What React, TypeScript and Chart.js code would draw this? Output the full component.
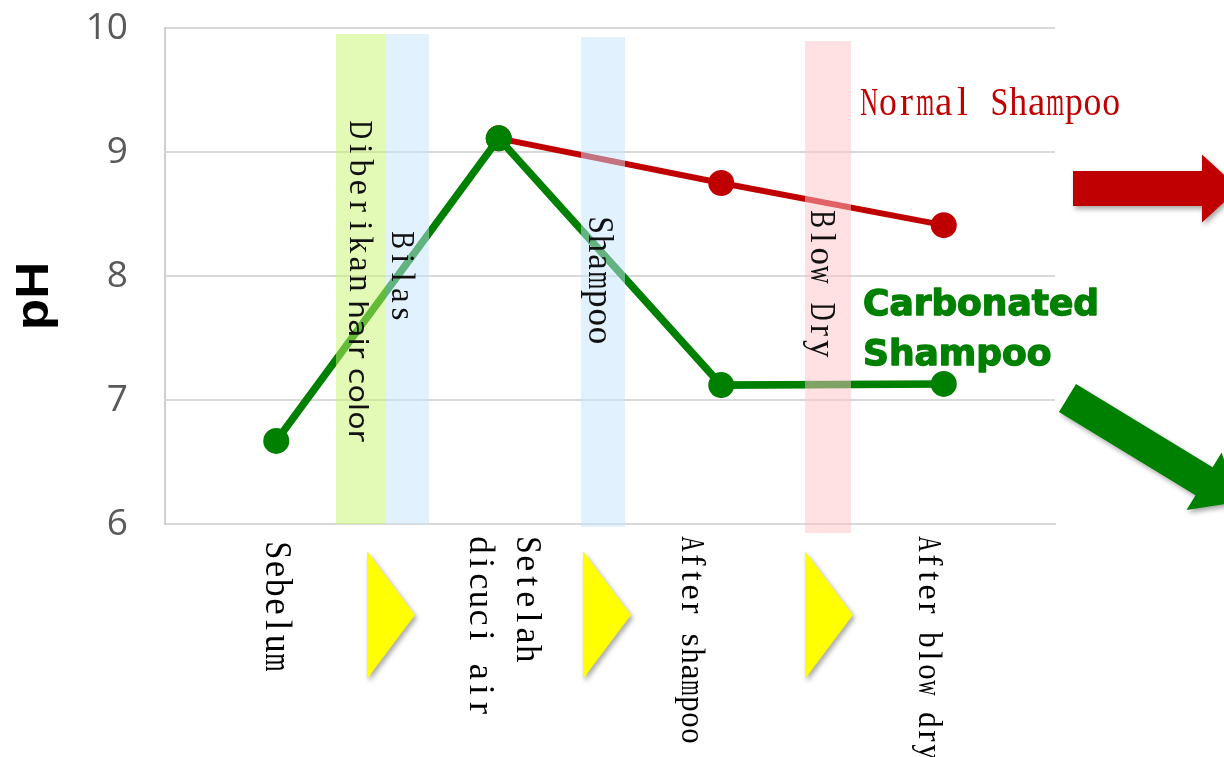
import React, { useEffect, useRef } from 'react';
import { Chart, registerables } from 'chart.js';

Chart.register(...registerables);

// ---- data ----
const categories = ['Sebelum', 'Setelah\ndicuci air', 'After shampoo', 'After blow dry'];
const carbonatedPH = [6.67, 9.11, 7.12, 7.13];
const normalPH: (number | null)[] = [null, 9.11, 8.75, 8.41];
const yTicks = [6, 7, 8, 9, 10];
const seriesNames = ['Carbonated Shampoo', 'Normal Shampoo'];
const stepLabels = ['Diberikan', 'hair color', 'Bilas', 'Shampoo', 'Blow Dry'];
const yTitle = 'pH';

// ---- layout / style (not data) ----
const W = 1224;
const H = 757;
const MONO = "'Liberation Serif', 'DejaVu Serif', serif";

const bands = [
  { from: 0.2685, to: 0.4933, top: 9.952, bottom: 6.0, color: 'rgba(200,245,110,0.5)' },
  { from: 0.4933, to: 0.6865, top: 9.952, bottom: 6.0, color: 'rgba(195,230,253,0.5)' },
  { from: 1.3697, to: 1.5674, top: 9.927, bottom: 5.976, color: 'rgba(195,230,253,0.5)' },
  { from: 2.3764, to: 2.5831, top: 9.895, bottom: 5.927, color: 'rgba(255,195,200,0.5)' },
];

const triangles = [0.408, 1.379, 2.376];

const xLabelLayout = [
  { dx: [-10], startY: 541, cell: 18.7, size: 37 },
  { dx: [18, -29], startY: 536, cell: 18.1, size: 36 },
  { dx: [-39], startY: 536, cell: 16, size: 34 },
  { dx: [-25], startY: 536, cell: 16, size: 34 },
];

function drawMono(ctx: CanvasRenderingContext2D, text: string, cell: number, size: number) {
  ctx.font = `${size}px ${MONO}`;
  ctx.textAlign = 'center';
  ctx.textBaseline = 'alphabetic';
  for (let i = 0; i < text.length; i++) {
    const ch = text[i];
    if (ch === ' ') continue;
    const w = ctx.measureText(ch).width;
    const s = Math.min(1, (cell * 0.96) / w);
    ctx.save();
    ctx.translate(i * cell + cell / 2, 0);
    ctx.scale(s, 1);
    ctx.fillText(ch, 0, 0);
    ctx.restore();
  }
}

function drawVerticalMono(
  ctx: CanvasRenderingContext2D,
  text: string,
  baselineX: number,
  startY: number,
  cell: number,
  size: number,
  color: string
) {
  ctx.save();
  ctx.fillStyle = color;
  ctx.translate(baselineX, startY);
  ctx.rotate(Math.PI / 2);
  drawMono(ctx, text, cell, size);
  ctx.restore();
}

function drawArrow(
  ctx: CanvasRenderingContext2D,
  x0: number,
  y0: number,
  angle: number,
  len: number,
  shaftHalf: number,
  headHalf: number,
  headLen: number,
  color: string
) {
  ctx.save();
  ctx.translate(x0, y0);
  ctx.rotate(angle);
  ctx.shadowColor = 'rgba(0,0,0,0.35)';
  ctx.shadowBlur = 5;
  ctx.shadowOffsetX = 2;
  ctx.shadowOffsetY = 3;
  ctx.fillStyle = color;
  ctx.beginPath();
  ctx.moveTo(0, -shaftHalf);
  ctx.lineTo(len - headLen, -shaftHalf);
  ctx.lineTo(len - headLen, -headHalf);
  ctx.lineTo(len, 0);
  ctx.lineTo(len - headLen, headHalf);
  ctx.lineTo(len - headLen, shaftHalf);
  ctx.lineTo(0, shaftHalf);
  ctx.closePath();
  ctx.fill();
  ctx.restore();
}

const overlayPlugin = {
  id: 'overlay',
  afterDatasetsDraw(chart: any) {
    const ctx: CanvasRenderingContext2D = chart.ctx;
    const x = chart.scales.x;
    const y = chart.scales.y;

    // translucent step bands (on top of the lines)
    ctx.save();
    for (const b of bands) {
      const x1 = Math.round(x.getPixelForValue(b.from));
      const x2 = Math.round(x.getPixelForValue(b.to));
      const y1 = Math.round(y.getPixelForValue(b.top));
      const y2 = Math.round(y.getPixelForValue(b.bottom));
      ctx.fillStyle = b.color;
      ctx.fillRect(x1, y1, x2 - x1, y2 - y1);
    }
    ctx.restore();

    // band texts
    const txt = '#111111';
    const b0 = Math.round(x.getPixelForValue(bands[0].from));
    const b1 = Math.round(x.getPixelForValue(bands[1].from));
    const b2 = Math.round(x.getPixelForValue(bands[2].from));
    const b3 = Math.round(x.getPixelForValue(bands[3].from));
    drawVerticalMono(ctx, stepLabels[0], b0 + 14, 120, 19.2, 34, txt);
    // "hair color" in sans
    ctx.save();
    ctx.fillStyle = txt;
    ctx.translate(b0 + 13, 300);
    ctx.rotate(Math.PI / 2);
    ctx.font = "27px 'DejaVu Sans', sans-serif";
    ctx.textAlign = 'left';
    ctx.textBaseline = 'alphabetic';
    const hw = ctx.measureText(stepLabels[1]).width;
    ctx.scale(142 / hw, 1);
    ctx.fillText(stepLabels[1], 0, 0);
    ctx.restore();
    drawVerticalMono(ctx, stepLabels[2], b1 + 6, 231, 18.4, 33, txt);
    drawVerticalMono(ctx, stepLabels[3], b2 + 8, 216, 18.4, 35, txt);
    drawVerticalMono(ctx, stepLabels[4], b3 + 6, 210, 18.5, 35, txt);

    // x category labels (rotated, reading downward)
    categories.forEach((cat, i) => {
      const cx = x.getPixelForValue(i);
      const lines = cat.split('\n');
      const lay = xLabelLayout[i];
      lines.forEach((ln, k) => {
        drawVerticalMono(ctx, ln, cx + lay.dx[k], lay.startY, lay.cell, lay.size, '#000000');
      });
    });

    // yellow step triangles
    ctx.save();
    ctx.shadowColor = 'rgba(0,0,0,0.35)';
    ctx.shadowBlur = 5;
    ctx.shadowOffsetX = 2;
    ctx.shadowOffsetY = 3;
    ctx.fillStyle = '#ffff00';
    for (const t of triangles) {
      const lx = Math.round(x.getPixelForValue(t));
      ctx.beginPath();
      ctx.moveTo(lx, 551);
      ctx.lineTo(lx + 48, 615);
      ctx.lineTo(lx, 679);
      ctx.closePath();
      ctx.fill();
    }
    ctx.restore();

    // series annotations
    ctx.save();
    ctx.fillStyle = '#c00000';
    ctx.translate(860, 115);
    drawMono(ctx, seriesNames[1], 18.6, 39);
    ctx.restore();

    ctx.save();
    ctx.fillStyle = '#008000';
    ctx.strokeStyle = '#008000';
    ctx.lineWidth = 1.4;
    ctx.lineJoin = 'round';
    ctx.font = "bold 36px 'DejaVu Sans', sans-serif";
    ctx.textAlign = 'left';
    ctx.textBaseline = 'alphabetic';
    const words = seriesNames[0].split(' ');
    const w1 = ctx.measureText(words[0]).width;
    const sc = 236 / w1;
    ctx.translate(863, 315);
    ctx.scale(sc, 1);
    ctx.fillText(words[0], 0, 0);
    ctx.strokeText(words[0], 0, 0);
    ctx.fillText(words[1], 0, 50);
    ctx.strokeText(words[1], 0, 50);
    ctx.restore();

    // big arrows
    drawArrow(ctx, 1073, 188.5, 0, 166, 17.5, 34, 37, '#c00000');
    drawArrow(ctx, 1067.5, 398, Math.atan2(83, 136), 200, 16.4, 33.7, 40, '#008000');

    // y axis title
    ctx.save();
    ctx.fillStyle = '#000000';
    ctx.translate(48, 296);
    ctx.rotate(-Math.PI / 2);
    ctx.font = "bold 46px 'Liberation Sans', Arial, sans-serif";
    ctx.textAlign = 'center';
    ctx.textBaseline = 'alphabetic';
    const tw = ctx.measureText(yTitle).width;
    ctx.scale(68 / tw, 1);
    ctx.fillText(yTitle, 0, 0);
    ctx.restore();
  },
};

export default function App() {
  const ref = useRef<HTMLCanvasElement | null>(null);

  useEffect(() => {
    if (!ref.current) return;
    const chart = new Chart(ref.current, {
      type: 'line',
      data: {
        labels: categories,
        datasets: [
          {
            label: seriesNames[0],
            data: carbonatedPH,
            borderColor: '#008000',
            backgroundColor: '#008000',
            borderWidth: 7.5,
            pointRadius: 13,
            pointBorderWidth: 0,
            pointBackgroundColor: '#008000',
            tension: 0,
          },
          {
            label: seriesNames[1],
            data: normalPH,
            borderColor: '#c00000',
            backgroundColor: '#c00000',
            borderWidth: 6,
            pointRadius: 13,
            pointBorderWidth: 0,
            pointBackgroundColor: '#c00000',
            tension: 0,
          },
        ],
      },
      options: {
        responsive: false,
        animation: false,
        events: [],
        layout: { padding: { top: 28, right: 169, left: 0, bottom: 0 } },
        plugins: {
          legend: { display: false },
          tooltip: { enabled: false },
          title: { display: false },
        },
        scales: {
          x: {
            offset: true,
            grid: { display: false, drawTicks: false },
            border: { display: true, color: '#d9d9d9', width: 2 },
            ticks: { display: false },
            afterFit: (s: any) => {
              s.height = H - 524;
              s.paddingLeft = 0;
              s.paddingRight = 0;
            },
          },
          y: {
            min: yTicks[0],
            max: yTicks[yTicks.length - 1],
            afterBuildTicks: (s: any) => {
              s.ticks = yTicks.map((v) => ({ value: v }));
            },
            grid: { color: '#d9d9d9', lineWidth: 2, drawTicks: false },
            border: { display: true, color: '#d0d0d0', width: 2 },
            ticks: {
              color: '#595959',
              font: { family: "'Open Sans', sans-serif", size: 37 },
              padding: 37,
            },
            afterFit: (s: any) => {
              s.width = 165;
              s.paddingTop = 0;
              s.paddingBottom = 0;
            },
          },
        },
      },
      plugins: [overlayPlugin],
    });
    return () => chart.destroy();
  }, []);

  return (
    <div style={{ position: 'absolute', left: 0, top: 0, width: W, height: H, background: '#ffffff' }}>
      <canvas ref={ref} width={W} height={H} style={{ display: 'block' }} />
    </div>
  );
}
